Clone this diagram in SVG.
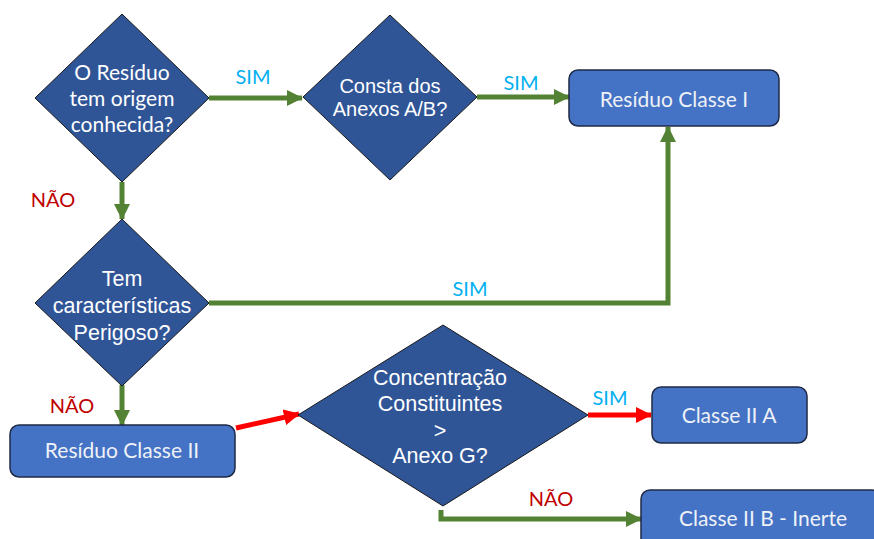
<svg xmlns="http://www.w3.org/2000/svg" width="874" height="539" viewBox="0 0 874 539">
  <style>
    .dia { fill: #2F5597; stroke: #1a1a1a; stroke-width: 1; }
    .box { fill: #4472C4; stroke: #1f2a44; stroke-width: 1.5; }
    .qa { font-family: "Liberation Sans", Arial, sans-serif; font-size: 21.5px; fill: #FFFFFF; text-anchor: middle; }
    .qc { font-family: Lato, "Open Sans", sans-serif; font-size: 21px; fill: #FFFFFF; text-anchor: middle; }
    .bt { font-family: Lato, "Open Sans", sans-serif; font-size: 21px; fill: #EEF1F7; text-anchor: middle; }
    .sim { font-family: Lato, "Open Sans", sans-serif; font-size: 20px; fill: #00B0F0; text-anchor: middle; }
    .nao { font-family: Lato, "Open Sans", sans-serif; font-size: 20px; fill: #C00000; text-anchor: middle; }
    .g { fill: none; stroke: #548235; stroke-width: 5; }
    .r { fill: none; stroke: #FF0000; stroke-width: 5; }
  </style>
  <defs>
    <marker id="ag" markerUnits="userSpaceOnUse" markerWidth="16" markerHeight="16" refX="15" refY="8" orient="auto">
      <path d="M0,0 L16,8 L0,16 z" fill="#548235"/>
    </marker>
    <marker id="ar" markerUnits="userSpaceOnUse" markerWidth="16" markerHeight="16" refX="15" refY="8" orient="auto">
      <path d="M0,0 L16,8 L0,16 z" fill="#FF0000"/>
    </marker>
  </defs>

  <rect width="874" height="539" fill="#FFFFFF"/>

  <!-- connectors -->
  <g id="connectors">
    <path class="g" d="M209,98 H302" marker-end="url(#ag)"/>
    <path class="g" d="M477,97 H569" marker-end="url(#ag)"/>
    <path class="g" d="M122,182 V219" marker-end="url(#ag)"/>
    <path class="g" d="M209,303 H668 V127" marker-end="url(#ag)"/>
    <path class="g" d="M122,385 V425" marker-end="url(#ag)"/>
    <path class="r" d="M236,428 L299,414" marker-end="url(#ar)"/>
    <path class="r" d="M588,415 H651" marker-end="url(#ar)"/>
    <path class="g" d="M441,510 V519 H641" marker-end="url(#ag)"/>
    <text class="sim" x="253" y="84">SIM</text>
    <text class="sim" x="521" y="90">SIM</text>
    <text class="sim" x="470" y="296">SIM</text>
    <text class="sim" x="610" y="405">SIM</text>
    <text class="nao" x="53" y="207">NÃO</text>
    <text class="nao" x="72" y="413">NÃO</text>
    <text class="nao" x="551" y="506">NÃO</text>
  </g>

  <!-- decision: known origin -->
  <g id="q-origem">
    <polygon class="dia" points="122,14 209,98 122,182 35,98"/>
    <text class="qc" x="122" y="80">O Resíduo</text>
    <text class="qc" x="122" y="106">tem origem</text>
    <text class="qc" x="122" y="132">conhecida?</text>
  </g>

  <!-- decision: listed in annexes A/B -->
  <g id="q-anexos">
    <polygon class="dia" points="390,15 477,97 390,180 303,97"/>
    <text class="qa" x="390" y="93" style="font-size:20px">Consta dos</text>
    <text class="qa" x="390" y="116" style="font-size:20px">Anexos A/B?</text>
  </g>

  <!-- class I -->
  <g id="classe-i">
    <rect class="box" x="569" y="70" width="210" height="56" rx="9"/>
    <text class="bt" x="674" y="107">Resíduo Classe I</text>
  </g>

  <!-- decision: hazardous -->
  <g id="q-perigoso">
    <polygon class="dia" points="122,219 209,303 122,386 35,303"/>
    <text class="qa" x="122" y="286">Tem</text>
    <text class="qa" x="122" y="313">características</text>
    <text class="qa" x="122" y="340">Perigoso?</text>
  </g>

  <!-- class II -->
  <g id="classe-ii">
    <rect class="box" x="10" y="425" width="225" height="52" rx="9"/>
    <text class="bt" x="122" y="458">Resíduo Classe II</text>
  </g>

  <!-- decision: concentration vs annex G -->
  <g id="q-anexo-g">
    <polygon class="dia" points="443,325 588,415 443,506 298,415"/>
    <text class="qa" x="440" y="385">Concentração</text>
    <text class="qa" x="440" y="411">Constituintes</text>
    <text class="qa" x="440" y="438">&gt;</text>
    <text class="qa" x="440" y="463">Anexo G?</text>
  </g>

  <!-- class II A -->
  <g id="classe-ii-a">
    <rect class="box" x="652" y="387" width="155" height="56" rx="9"/>
    <text class="bt" x="729" y="423">Classe II A</text>
  </g>

  <!-- class II B -->
  <g id="classe-ii-b">
    <rect class="box" x="641" y="490" width="240" height="70" rx="9"/>
    <text class="bt" x="763" y="526">Classe II B - Inerte</text>
  </g>
</svg>
